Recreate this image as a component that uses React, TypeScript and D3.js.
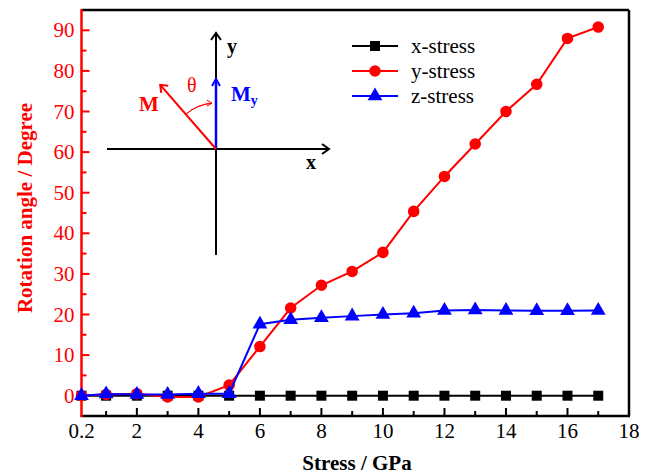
import React from 'react'
import * as d3 from 'd3'

// stress values (GPa)
const stress = [0.2, 1, 2, 3, 4, 5, 6, 7, 8, 9, 10, 11, 12, 13, 14, 15, 16, 17]
// rotation angle (degree) for each loading direction
const xStress = [0, 0, 0, 0, 0, 0, 0, 0, 0, 0, 0, 0, 0, 0, 0, 0, 0, 0]
const yStress = [0, 0.3, 0.5, -0.3, -0.3, 2.6, 12.1, 21.6, 27.2, 30.6, 35.3, 45.4, 54.0, 62.0, 70.0, 76.7, 88.0, 90.8]
const zStress = [0, 0.4, 0.3, 0.3, 0.5, 0.5, 17.6, 18.7, 19.2, 19.6, 20.0, 20.3, 21.0, 21.1, 21.0, 20.9, 20.9, 21.0]

const xMajor = [2, 4, 6, 8, 10, 12, 14, 16, 18]
const xMinor = [1, 3, 5, 7, 9, 11, 13, 15, 17]
const yMajor = [0, 10, 20, 30, 40, 50, 60, 70, 80, 90]
const yMinor = [5, 15, 25, 35, 45, 55, 65, 75, 85]

const seriesNames = ['x-stress', 'y-stress', 'z-stress']
const seriesColors = ['#000000', '#ff0000', '#0000ff']
const seriesShapes = [d3.symbolSquare, d3.symbolCircle, d3.symbolTriangle]
const seriesSizes = [100, 105, 95]

const W = 646
const H = 475
const FONT = '"Liberation Serif", "Times New Roman", serif'

export default function App() {
  const left = 81.5, right = 629, top = 10, bottom = 416

  const x = d3.scaleLinear().domain([0.2, 18]).range([left, right])
  const y = d3.scaleLinear().domain([-5, 95]).range([bottom, top])

  const series = [xStress, yStress, zStress]
  const line = d3.line<number>()
    .x((_, i) => x(stress[i]))
    .y(d => y(d))

  // inset diagram origin
  const ox = 216, oy = 149
  const arcR = 46
  const mAng = (-41 * Math.PI) / 180
  const arcEnd = (-5 * Math.PI) / 180
  const arc = d3.arc()({
    innerRadius: arcR, outerRadius: arcR, startAngle: mAng, endAngle: arcEnd
  } as any)
  const mx = ox + 85 * Math.sin(mAng), my = oy - 85 * Math.cos(mAng)
  const aex = ox + arcR * Math.sin(arcEnd), aey = oy - arcR * Math.cos(arcEnd)

  return (
    <div style={{ position: 'absolute', left: 0, top: 0 }}>
      <svg width={W} height={H} style={{ display: 'block', fontFamily: FONT }}>
        <rect width={W} height={H} fill="#fff" />

        {/* frame */}
        <line x1={left} x2={right} y1={top} y2={top} stroke="#000" strokeWidth={2.5} />
        <line x1={right} x2={right} y1={top} y2={bottom} stroke="#000" strokeWidth={2.5} />
        <line x1={left - 1} x2={right + 1} y1={bottom} y2={bottom} stroke="#000" strokeWidth={2.5} />
        <line x1={left} x2={left} y1={top - 1} y2={bottom + 1} stroke="#ff0000" strokeWidth={2.5} />

        {/* x ticks */}
        {xMajor.map(t => (
          <g key={'xm' + t}>
            {t < 18 && <line x1={x(t)} x2={x(t)} y1={bottom} y2={bottom - 8} stroke="#000" strokeWidth={2} />}
            <text x={x(t)} y={bottom + 22} textAnchor="middle" fontSize={21}>{t}</text>
          </g>
        ))}
        <text x={x(0.2)} y={bottom + 22} textAnchor="middle" fontSize={21}>0.2</text>
        {xMinor.map(t => (
          <line key={'xn' + t} x1={x(t)} x2={x(t)} y1={bottom} y2={bottom - 5} stroke="#000" strokeWidth={2} />
        ))}

        {/* y ticks */}
        {yMajor.map(t => (
          <g key={'ym' + t}>
            <line x1={left} x2={left + 8} y1={y(t)} y2={y(t)} stroke="#ff0000" strokeWidth={2} />
            <text x={left - 7} y={y(t) + 7} textAnchor="end" fontSize={21} fill="#ff0000">{t}</text>
          </g>
        ))}
        {yMinor.map(t => (
          <line key={'yn' + t} x1={left} x2={left + 5} y1={y(t)} y2={y(t)} stroke="#ff0000" strokeWidth={2} />
        ))}

        {/* axis titles */}
        <text x={357} y={470} textAnchor="middle" fontSize={21} fontWeight="bold">Stress / GPa</text>
        <text transform="translate(32,208) rotate(-90)" textAnchor="middle" fontSize={21}
          fontWeight="bold" fill="#ff0000">Rotation angle / Degree</text>

        {/* series */}
        {series.map((vals, s) => (
          <g key={seriesNames[s]}>
            <path d={line(vals) || ''} fill="none" stroke={seriesColors[s]} strokeWidth={2} />
            {vals.map((v, i) => (
              <path key={i} transform={`translate(${x(stress[i])},${y(v)})`}
                d={d3.symbol(seriesShapes[s], seriesSizes[s])() || ''} fill={seriesColors[s]} />
            ))}
          </g>
        ))}

        {/* legend */}
        {seriesNames.map((n, s) => {
          const ly = 46 + s * 25
          return (
            <g key={'lg' + n}>
              <line x1={352} x2={398} y1={ly} y2={ly} stroke={seriesColors[s]} strokeWidth={2} />
              <path transform={`translate(375,${ly})`} d={d3.symbol(seriesShapes[s], seriesSizes[s])() || ''}
                fill={seriesColors[s]} />
              <text x={411} y={ly + 7} fontSize={21}>{n}</text>
            </g>
          )
        })}

        {/* inset schematic */}
        <g fill="none" strokeWidth={2}>
          <line x1={107} x2={329} y1={oy} y2={oy} stroke="#000" />
          <polyline points={`${322},${oy - 5} ${329},${oy} ${322},${oy + 5}`} stroke="#000" />
          <line x1={ox} x2={ox} y1={33} y2={255} stroke="#000" />
          <polyline points={`${ox - 5},${40} ${ox},${33} ${ox + 5},${40}`} stroke="#000" />
          <line x1={ox} x2={ox} y1={oy} y2={79} stroke="#0000ff" strokeWidth={2.5} />
          <polyline points={`${ox - 4},${86} ${ox},${79} ${ox + 4},${86}`} stroke="#0000ff" />
          <line x1={ox} y1={oy} x2={mx} y2={my} stroke="#ff0000" />
          <polyline points={`${mx + 1},${my + 8} ${mx},${my} ${mx + 8},${my + 1}`} stroke="#ff0000" />
          <path d={arc || ''} transform={`translate(${ox},${oy})`} stroke="#ff0000" strokeWidth={1} />
          <polyline points={`${aex - 5},${aey - 3} ${aex},${aey} ${aex - 5},${aey + 3}`} stroke="#ff0000" strokeWidth={1} />
        </g>
        <text x={227} y={53} fontSize={20} fontWeight="bold">y</text>
        <text x={306} y={169} fontSize={20} fontWeight="bold">x</text>
        <text x={139} y={111} fontSize={21} fontWeight="bold" fill="#ff0000">M</text>
        <text x={187} y={92} fontSize={20} fill="#ff0000">θ</text>
        <text x={231} y={101} fontSize={21} fontWeight="bold" fill="#0000ff">
          M<tspan fontSize={14} dy={4}>y</tspan>
        </text>
      </svg>
    </div>
  )
}
